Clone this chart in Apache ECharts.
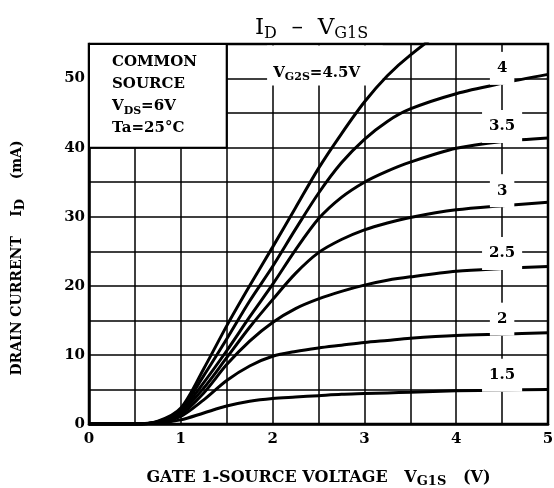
<!DOCTYPE html>
<html>
<head>
<meta charset="utf-8">
<script src="https://cdn.jsdelivr.net/npm/echarts@6/dist/echarts.min.js"></script>
<style>
  html, body { margin: 0; padding: 0; background: #fff; }
  #chart { width: 554px; height: 488px; }
</style>
</head>
<body>
<div id="chart"></div>
<script>
// gate 1 voltage (V) and drain current (mA) for each VG2S curve
const vg1s = [0, 0.5, 0.75, 1, 1.25, 1.5, 1.75, 2, 2.25, 2.5, 2.75, 3, 3.25, 3.5, 4, 4.5, 5];
const id45 = [0, 0, 0.4, 2.3, 8, 14.2, 20, 25.6, 31.3, 37, 42, 46.6, 50.4, 53.4, 58.3, 62, 65];
const id40 = [0, 0, 0.35, 2.1, 7, 12.3, 17.8, 22.8, 28.2, 33.4, 37.8, 41.2, 43.8, 45.6, 47.8, 49.3, 50.6];
const id35 = [0, 0, 0.3, 1.9, 6, 10.6, 15.5, 20.2, 25.2, 29.7, 32.8, 35, 36.6, 37.9, 39.9, 40.9, 41.4];
const id30 = [0, 0, 0.3, 1.7, 5.2, 9.6, 14, 18, 21.8, 24.8, 26.7, 28.1, 29.1, 29.9, 31, 31.6, 32.1];
const id25 = [0, 0, 0.25, 1.4, 4.5, 8.6, 12, 14.7, 16.7, 18.1, 19.2, 20.1, 20.8, 21.3, 22.1, 22.5, 22.8];
const id20 = [0, 0, 0.2, 1.1, 3.5, 6.3, 8.4, 9.8, 10.5, 11, 11.4, 11.8, 12.1, 12.4, 12.8, 13, 13.2];
const id15 = [0, 0, 0.15, 0.6, 1.6, 2.6, 3.3, 3.7, 3.9, 4.1, 4.3, 4.4, 4.5, 4.6, 4.8, 4.9, 5.0];

const curveNames = ["4.5", "4", "3.5", "3", "2.5", "2", "1.5"];
const curveData = [id45, id40, id35, id30, id25, id20, id15];
const boxLines = ["COMMON", "SOURCE", "V{sub|DS}=6V", "Ta=25°C"];

const font = "DejaVu Serif";
const subStyle = { fontFamily: font, fontWeight: "bold", fontSize: 11, lineHeight: 14, verticalAlign: "bottom" };
const nameSub = { fontFamily: font, fontWeight: "bold", fontSize: 13, lineHeight: 15, verticalAlign: "bottom" };

const chart = echarts.init(document.getElementById("chart"));

const labelAt = vg1s.indexOf(4.5);

const series = curveNames.map((name, k) => {
  const s = {
    name: name,
    type: "line",
    data: vg1s.map((x, i) => [x, curveData[k][i]]),
    smooth: 0.3,
    symbol: "none",
    lineStyle: { color: "#000", width: 3 },
    z: 3,
  };
  if (name === "4.5") {
    s.markArea = {
      silent: true,
      itemStyle: { color: "#fff" },
      data: [[{ coord: [1.94, 49] }, { coord: [3.2, 54.8] }]],
    };
    s.markPoint = {
      silent: true,
      symbol: "rect",
      symbolSize: 0,
      data: [{ coord: [2.48, 50.8] }],
      label: {
        show: true,
        position: "inside",
        formatter: "V{sub|G2S}=4.5V",
        color: "#000",
        fontFamily: font,
        fontWeight: "bold",
        fontSize: 15,
        lineHeight: 20,
        rich: { sub: subStyle },
      },
    };
  } else {
    s.markPoint = {
      silent: true,
      symbol: "rect",
      symbolSize: 0,
      data: [{ coord: [4.5, curveData[k][labelAt]] }],
      label: {
        show: true,
        position: "inside",
        offset: [0, -15],
        formatter: name,
        color: "#000",
        backgroundColor: "#fff",
        padding: [9, 7],
        fontFamily: font,
        fontWeight: "bold",
        fontSize: 15,
      },
    };
  }
  if (name === "1.5") {
    s.markArea = {
      silent: true,
      itemStyle: { color: "#fff", borderColor: "#000", borderWidth: 2 },
      data: [[{ coord: [0, 40] }, { coord: [1.5, 55] }]],
      label: {
        show: true,
        position: "insideTopLeft",
        distance: 0,
        padding: [8, 0, 0, 24],
        formatter: boxLines.join("\n"),
        color: "#000",
        fontFamily: font,
        fontWeight: "bold",
        fontSize: 15,
        lineHeight: 22,
        rich: { sub: subStyle },
      },
    };
  }
  return s;
});

chart.setOption({
  animation: false,
  backgroundColor: "#fff",
  title: {
    text: "I{sub|D}  –  V{sub|G1S}",
    left: 250,
    top: 9,
    textStyle: {
      fontFamily: font,
      fontWeight: "normal",
      fontSize: 23,
      lineHeight: 28,
      color: "#000",
      rich: {
        sub: { fontFamily: font, fontSize: 16, lineHeight: 20, verticalAlign: "bottom", color: "#000" },
      },
    },
  },
  grid: {
    left: 89,
    right: 6,
    top: 44,
    bottom: 64,
    outerBoundsMode: "none",
    show: true,
    borderColor: "#000",
    borderWidth: 2.5,
  },
  xAxis: {
    type: "value",
    min: 0,
    max: 5,
    interval: 1,
    name: "GATE 1-SOURCE VOLTAGE   V{sub|G1S}   (V)",
    nameLocation: "middle",
    nameGap: 44,
    nameTextStyle: {
      fontFamily: font,
      fontWeight: "bold",
      fontSize: 16,
      lineHeight: 20,
      color: "#000",
      rich: { sub: nameSub },
    },
    axisLine: { show: true, lineStyle: { color: "#000", width: 2.5 } },
    axisTick: { show: false },
    axisLabel: { color: "#000", fontFamily: font, fontWeight: "bold", fontSize: 15, margin: 8 },
    splitLine: { show: true, lineStyle: { color: "#000", width: 1.5 } },
    minorTick: { show: false, splitNumber: 2 },
    minorSplitLine: { show: true, lineStyle: { color: "#000", width: 1.5 } },
  },
  yAxis: {
    type: "value",
    min: 0,
    max: 55,
    interval: 10,
    name: "DRAIN CURRENT    I{sub|D}    (mA)",
    nameLocation: "middle",
    nameGap: 62,
    nameRotate: 90,
    nameTextStyle: {
      fontFamily: font,
      fontWeight: "bold",
      fontSize: 14,
      lineHeight: 20,
      color: "#000",
      padding: [0, 48, 0, 0],
      rich: { sub: nameSub },
    },
    axisLine: { show: true, lineStyle: { color: "#000", width: 2.5 } },
    axisTick: { show: false },
    axisLabel: { color: "#000", fontFamily: font, fontWeight: "bold", fontSize: 15, margin: 4, showMaxLabel: false },
    splitLine: { show: true, lineStyle: { color: "#000", width: 1.5 } },
    minorTick: { show: false, splitNumber: 2 },
    minorSplitLine: { show: true, lineStyle: { color: "#000", width: 1.5 } },
  },
  series: series,
});
</script>
</body>
</html>
